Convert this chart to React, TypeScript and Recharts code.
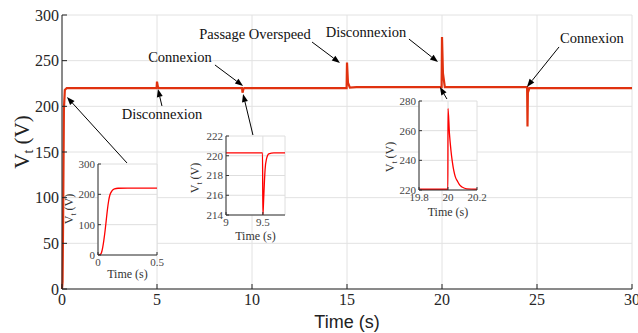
import React from 'react';
import { LineChart, Line, XAxis, YAxis, CartesianGrid, ReferenceLine, ReferenceDot } from 'recharts';

// main trace, 0..30 s
const mainTime = [0, 0.03, 0.06, 0.1, 0.15, 0.25, 4.98, 5.0, 5.05, 5.1, 9.48, 9.5, 9.55, 9.6, 14.98, 15.0, 15.05, 15.15, 15.5, 19.98, 20.0, 20.05, 20.15, 24.48, 24.5, 24.52, 24.6, 30];
const mainVolt = [0, 8, 80, 197, 218, 220, 220, 227, 221, 220, 220, 215, 219, 220, 220, 248, 226, 220.5, 221, 221, 276, 236, 221, 221, 178, 215, 220, 220];
const xTicks = [0, 5, 10, 15, 20, 25, 30];
const yTicks = [0, 50, 100, 150, 200, 250, 300];

// zoom: start-up
const startTime = [0, 0.02, 0.03, 0.04, 0.05, 0.06, 0.07, 0.08, 0.09, 0.1, 0.12, 0.14, 0.17, 0.25, 0.5];
const startVolt = [0, 2, 8, 25, 50, 80, 115, 150, 178, 197, 212, 218, 220, 220.5, 220.3];
// zoom: connexion at 9.5 s
const connTime = [9, 9.495, 9.5, 9.51, 9.52, 9.53, 9.55, 9.58, 9.65, 9.8];
const connVolt = [220.3, 220.3, 214, 215.5, 217.2, 218.6, 219.7, 220.2, 220.3, 220.3];
// zoom: disconnexion at 20 s
const discTime = [19.8, 19.999, 20.0, 20.01, 20.02, 20.03, 20.04, 20.05, 20.065, 20.08, 20.1, 20.13, 20.2];
const discVolt = [220.5, 220.5, 275, 258, 247, 239, 233, 229, 226, 223.5, 221.8, 220.8, 220.5];

const rows = (t: number[], v: number[]) => t.map((x, i) => ({ t: x, v: v[i] }));

const notes = [
  { text: 'Connexion', t: 6.21, v: 254 },
  { text: 'Disconnexion', t: 5.26, v: 191.6 },
  { text: 'Passage Overspeed', t: 10.16, v: 279.2 },
  { text: 'Disconnexion', t: 16.0, v: 281.4 },
  { text: 'Connexion', t: 27.89, v: 274.8 },
];
const arrows = [
  [8.05, 245.3, 9.53, 222.3],
  [5.26, 200.4, 5.05, 219.0],
  [13.16, 270.4, 14.63, 247.5],
  [18.26, 273.7, 19.79, 248.5],
  [26.16, 265.0, 24.47, 221.2],
  [3.42, 138.0, 0.26, 210.2],
  [10.05, 168.6, 9.53, 213.5],
  [20.26, 208.0, 19.89, 221.2],
];

const serif = '"Liberation Serif", "Times New Roman", serif';
const sans = '"Liberation Sans", Arial, sans-serif';
const blank = () => <g />;

const Arrow = (p: any) => {
  const { x1, y1, x2, y2 } = p;
  const a = Math.atan2(y2 - y1, x2 - x1);
  const bx = x2 - 8 * Math.cos(a);
  const by = y2 - 8 * Math.sin(a);
  const px = -Math.sin(a) * 3;
  const py = Math.cos(a) * 3;
  return (
    <g>
      <line x1={x1} y1={y1} x2={bx} y2={by} stroke="#000" strokeWidth={1} />
      <polygon points={`${x2},${y2} ${bx + px},${by + py} ${bx - px},${by - py}`} fill="#000" />
    </g>
  );
};

const makeTick = (size: number, color: string, side: 'x' | 'y') => (p: any) => (
  <text x={p.x} y={p.y} textAnchor={side === 'x' ? 'middle' : 'end'} dy={side === 'x' ? '0.71em' : '0.35em'}
    fontFamily={serif} fontSize={size} fill={color}>
    {p.payload.value}
  </text>
);

const VtLabel = ({ x, y, size, color }: any) => (
  <text transform={`translate(${x},${y}) rotate(-90)`} textAnchor="middle" fontFamily={serif} fontSize={size} fill={color} dominantBaseline="central">
    V<tspan dy={size * 0.3} fontSize={size * 0.65}>t</tspan>
    <tspan dy={-size * 0.3}> (V)</tspan>
  </text>
);

const TimeLabel = ({ viewBox, size, color, family, dy }: any) => (
  <text x={viewBox.x + viewBox.width / 2} y={viewBox.y + dy} textAnchor="middle" dominantBaseline="central" fontFamily={family} fontSize={size} fill={color}>
    Time (s)
  </text>
);

function Inset({ left, top, width, height, data, xDomain, yDomain, xt, yt, yw, xh, mr, lx, ly, ty }: any) {
  return (
    <div style={{ position: 'absolute', left, top, width, height }}>
      <LineChart width={width} height={height} data={data} margin={{ top: 6, right: mr, left: 0, bottom: 0 }}>
        <CartesianGrid stroke="#dedede" fill="#fff" />
        <XAxis dataKey="t" type="number" domain={xDomain} ticks={xt} height={xh} allowDataOverflow
          tick={makeTick(11, '#444', 'x')} tickSize={-3} tickMargin={6} stroke="#333" interval={0}
          label={{ content: (p: any) => <TimeLabel viewBox={p.viewBox} size={12} color="#333" family={serif} dy={ty} /> }} />
        <XAxis xAxisId="top" dataKey="t" type="number" domain={xDomain} ticks={xt} orientation="top" height={0} tick={blank} tickSize={-3} stroke="#333" />
        <YAxis type="number" domain={yDomain} ticks={yt} width={yw} allowDataOverflow
          tick={makeTick(11, '#444', 'y')} tickSize={-3} tickMargin={6} stroke="#333" interval={0}
          label={{ content: () => <VtLabel x={lx} y={ly} size={12} color="#333" /> }} />
        <YAxis yAxisId="right" type="number" domain={yDomain} ticks={yt} orientation="right" width={0} tick={blank} tickSize={-3} stroke="#333" />
        <Line dataKey="v" type="monotone" stroke="#ff0000" strokeWidth={1.3} dot={false} isAnimationActive={false} />
      </LineChart>
    </div>
  );
}

export default function App() {
  return (
    <div style={{ position: 'absolute', left: 0, top: 0, width: 638, height: 333, background: '#fff', fontFamily: serif }}>
      <LineChart width={638} height={333} data={rows(mainTime, mainVolt)} margin={{ top: 15, right: 6, left: 0, bottom: 0 }}>
        <CartesianGrid stroke="#e2e2e2" />
        <XAxis dataKey="t" type="number" domain={[0, 30]} ticks={xTicks} height={44} interval={0}
          tick={makeTick(16, '#262626', 'x')} tickSize={-5} tickMargin={10} stroke="#222"
          label={{ content: (p: any) => <TimeLabel viewBox={p.viewBox} size={18} color="#222" family={sans} dy={33} /> }} />
        <XAxis xAxisId="top" dataKey="t" type="number" domain={[0, 30]} ticks={xTicks} orientation="top" height={0} tick={blank} tickSize={-5} stroke="#222" />
        <YAxis type="number" domain={[0, 300]} ticks={yTicks} width={62} interval={0}
          tick={makeTick(16, '#262626', 'y')} tickSize={-5} tickMargin={8} stroke="#222"
          label={{ content: () => <VtLabel x={22} y={142} size={21} color="#222" /> }} />
        <YAxis yAxisId="right" type="number" domain={[0, 300]} ticks={yTicks} orientation="right" width={0} tick={blank} tickSize={-5} stroke="#222" />
        <Line dataKey="v" type="linear" stroke="#e0320f" strokeWidth={2.2} dot={false} isAnimationActive={false} />
        {arrows.map((a, i) => (
          <ReferenceLine key={'a' + i} segment={[{ x: a[0], y: a[1] }, { x: a[2], y: a[3] }]} shape={Arrow} ifOverflow="visible" />
        ))}
        {notes.map((n, i) => (
          <ReferenceDot key={'n' + i} x={n.t} y={n.v} r={0} ifOverflow="visible"
            shape={(p: any) => (
              <text x={p.cx} y={p.cy} textAnchor="middle" dominantBaseline="central" fontFamily={serif} fontSize={14.5} fill="#111">{n.text}</text>
            )} />
        ))}
      </LineChart>
      <Inset left={60} top={158} width={110} height={124} data={rows(startTime, startVolt)} xDomain={[0, 0.5]} yDomain={[0, 300]}
        xt={[0, 0.5]} yt={[0, 100, 200, 300]} yw={38} xh={27} mr={13} lx={9} ly={51} ty={19} />
      <Inset left={185} top={130} width={104} height={115} data={rows(connTime, connVolt)} xDomain={[9, 9.8]} yDomain={[214, 222]}
        xt={[9, 9.5]} yt={[214, 216, 218, 220, 222]} yw={41} xh={30} mr={4} lx={10} ly={48} ty={21} />
      <Inset left={378} top={95} width={114} height={125} data={rows(discTime, discVolt)} xDomain={[19.8, 20.2]} yDomain={[220, 280]}
        xt={[19.8, 20, 20.2]} yt={[220, 240, 260, 280]} yw={41} xh={30} mr={15} lx={12} ly={62} ty={22} />
    </div>
  );
}
